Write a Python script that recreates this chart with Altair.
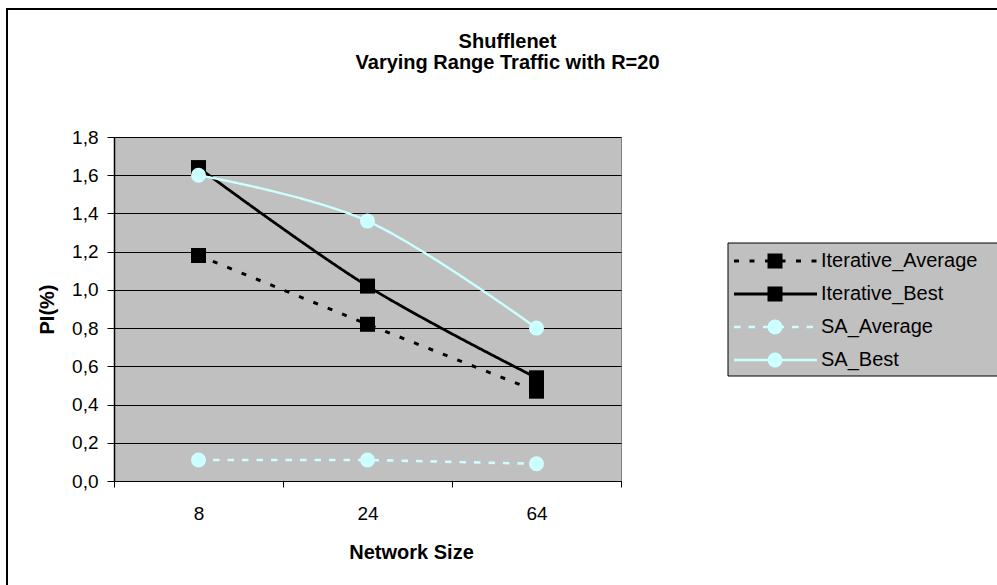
import altair as alt
import pandas as pd

# ---- data ----
network_sizes = ["8", "24", "64"]
series_names = ["Iterative_Average", "Iterative_Best", "SA_Average", "SA_Best"]
iterative_average = [1.18, 0.82, 0.47]
iterative_best = [1.64, 1.02, 0.54]
sa_average = [0.11, 0.11, 0.09]
sa_best = [1.60, 1.36, 0.80]
y_ticks = [0.0, 0.2, 0.4, 0.6, 0.8, 1.0, 1.2, 1.4, 1.6, 1.8]

series_values = {
    "Iterative_Average": iterative_average,
    "Iterative_Best": iterative_best,
    "SA_Average": sa_average,
    "SA_Best": sa_best,
}
rows = []
for k, name in enumerate(series_names):
    for size, v in zip(network_sizes, series_values[name]):
        rows.append({"series": name, "size": size, "pi": v, "order": k,
                     "kind": "Average" if name.endswith("Average") else "Best"})
df = pd.DataFrame(rows)
legend_df = pd.DataFrame({"series": series_names, "order": list(range(len(series_names)))})
one = pd.DataFrame({"a": [0]})

FONT = "Liberation Sans"
W, H = 507, 344

color_scale = alt.Scale(domain=series_names, range=["#000000", "#000000", "#CCFFFF", "#CCFFFF"])
dash_scale = alt.Scale(domain=series_names, range=[[5, 10.5], [1, 0], [6.5, 8], [1, 0]])
width_scale = alt.Scale(domain=series_names, range=[3, 2.4, 3, 2.6])
shape_scale = alt.Scale(domain=series_names, range=["square", "square", "circle", "circle"])
size_scale = alt.Scale(domain=series_names, range=[225, 225, 220, 220])
leg_size_scale = alt.Scale(domain=series_names, range=[165, 165, 175, 175])

x_enc = alt.X(
    "size:N", sort=network_sizes,
    scale=alt.Scale(paddingInner=0, paddingOuter=0),
    axis=alt.Axis(
        title="Network Size", labelAngle=0, tickBand="extent", ticks=True, tickSize=6,
        tickColor="black", domainColor="black", domainWidth=1, labelPadding=17,
        labelFont=FONT, labelFontSize=19, labelColor="black",
        titleFont=FONT, titleFontSize=20, titleFontWeight="bold", titleColor="black",
        titleX=297, titleY=77, titleBaseline="alphabetic", grid=False,
    ),
)
y_enc = alt.Y(
    "pi:Q",
    scale=alt.Scale(domain=[0, 1.8], nice=False, zero=True),
    axis=alt.Axis(
        title="PI(%)", values=y_ticks,
        labelExpr="replace(format(datum.value, '.1f'), '.', ',')",
        grid=True, gridColor="black", gridWidth=1, tickSize=7, tickColor="black",
        domainColor="black", domainWidth=1.5, labelPadding=9,
        labelFont=FONT, labelFontSize=19, labelColor="black",
        titleFont=FONT, titleFontSize=20, titleFontWeight="bold", titleColor="black",
        titlePadding=14,
    ),
)

base = alt.Chart(df)
line_enc = dict(
    x=x_enc, y=y_enc,
    color=alt.Color("series:N", scale=color_scale, legend=None),
    strokeDash=alt.StrokeDash("series:N", scale=dash_scale, legend=None),
    strokeWidth=alt.StrokeWidth("series:N", scale=width_scale, legend=None),
    detail="series:N",
)
avg_lines = base.transform_filter(alt.datum.kind == "Average").mark_line(interpolate="linear").encode(**line_enc)
best_lines = base.transform_filter(alt.datum.kind == "Best").mark_line(interpolate="cardinal").encode(**line_enc)
points = base.mark_point(filled=True, opacity=1).encode(
    x=x_enc, y=y_enc,
    shape=alt.Shape("series:N", scale=shape_scale, legend=None),
    color=alt.Color("series:N", scale=color_scale, legend=None),
    size=alt.Size("series:N", scale=size_scale, legend=None),
    order=alt.Order("order:Q"),
)
main = alt.layer(avg_lines, best_lines, points)

# ---- hand-built legend ----
leg_y = alt.Y("series:N", sort=series_names,
              scale=alt.Scale(type="point", domain=series_names, range=[124, 223], padding=0),
              axis=None)
leg_box = alt.Chart(one).mark_rect(fill="#C0C0C0", stroke="black", strokeWidth=1).encode(
    x=alt.value(614), x2=alt.value(900), y=alt.value(106), y2=alt.value(239))
leg_lines = alt.Chart(legend_df).mark_rule().encode(
    x=alt.value(620), x2=alt.value(703), y=leg_y,
    color=alt.Color("series:N", scale=color_scale, legend=None),
    strokeDash=alt.StrokeDash("series:N", scale=dash_scale, legend=None),
    strokeWidth=alt.StrokeWidth("series:N", scale=width_scale, legend=None),
)
leg_points = alt.Chart(legend_df).mark_point(filled=True, opacity=1).encode(
    x=alt.value(661), y=leg_y,
    shape=alt.Shape("series:N", scale=shape_scale, legend=None),
    color=alt.Color("series:N", scale=color_scale, legend=None),
    size=alt.Size("series:N", scale=leg_size_scale, legend=None),
)
leg_text = alt.Chart(legend_df).mark_text(align="left", baseline="middle", font=FONT,
                                          fontSize=20, color="black").encode(
    x=alt.value(707), y=leg_y, text="series:N")
legend = alt.layer(leg_lines, leg_points, leg_text)

frame = alt.Chart(one).mark_rect(fill="transparent", stroke="black", strokeWidth=2).encode(
    x=alt.value(-107), x2=alt.value(895), y=alt.value(-128), y2=alt.value(460))

chart = alt.layer(
    frame, main, leg_box, legend
).resolve_scale(y="independent").properties(
    width=W, height=H,
    background="white",
    title=alt.TitleParams(
        text=["Shufflenet", "Varying Range Traffic with R=20"],
        font=FONT, fontSize=20, fontWeight="bold", color="black",
        anchor="middle", frame="group", dx=140, dy=131, offset=66, lineHeight=21,
    ),
    autosize=alt.AutoSizeParams(type="none"),
    padding={"left": 114, "top": 137, "right": 376, "bottom": 104},
).configure_view(
    fill="#C0C0C0", stroke="#808080", strokeWidth=1
)

chart.save("out.html", embed_options={"renderer": "svg", "actions": False})
